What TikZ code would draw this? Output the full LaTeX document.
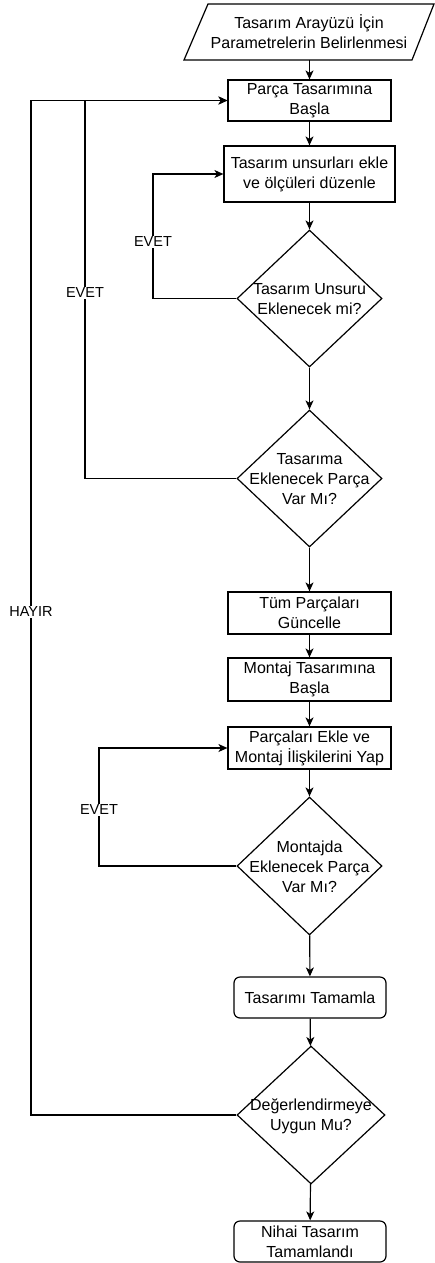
\documentclass[tikz,border=0pt]{standalone}
\usepackage{fontspec}
\setmainfont{Liberation Sans}
\usetikzlibrary{shapes.geometric,arrows.meta}
\begin{document}
\begin{tikzpicture}[x=1pt,y=-1pt,
  every node/.style={font=\fontsize{16}{20}\selectfont, text=black},
  proc/.style={draw, line width=1.2pt, rectangle, inner sep=0pt, align=center},
  term/.style={draw, line width=1.2pt, rectangle, rounded corners=6pt, inner sep=0pt, align=center},
  dec/.style={draw, line width=1.2pt, diamond, inner sep=0pt},
  txt/.style={align=center, inner sep=0pt},
  lbl/.style={fill=white, inner sep=1pt, font=\fontsize{14.5}{17}\selectfont},
  conn/.style={line width=1.2pt, -{Stealth[length=9pt,width=8pt,inset=2.5pt]}},
  seg/.style={line width=1.2pt}
]
\useasboundingbox (0,0) rectangle (435,1263);

% input parallelogram
\coordinate (pA) at (184,60);
\coordinate (pB) at (412,60);
\coordinate (pC) at (434,4);
\coordinate (pD) at (208,4);
\draw[line width=1.2pt] (pA) -- (pB) -- (pC) -- (pD) -- cycle;
\node[txt] (inp) at (309,31.5) {Tasarım Arayüzü İçin\\Parametrelerin Belirlenmesi};
\coordinate (inpS) at (309.5,60);

\node[proc, minimum width=163pt, minimum height=41pt] (b1) at (309.5,100.5) {Parça Tasarımına\\Başla};
\node[proc, minimum width=171pt, minimum height=56pt] (b2) at (309.5,174) {Tasarım unsurları ekle\\ve ölçüleri düzenle};
\node[dec, minimum width=145pt, minimum height=137pt] (d1) at (309.5,298.5) {};
\node[txt] (d1t) at (309.5,299.5) {Tasarım Unsuru\\Eklenecek mi?};
\node[dec, minimum width=145pt, minimum height=137pt] (d2) at (309.5,478.5) {};
\node[txt] (d2t) at (309.5,479.5) {Tasarıma\\Eklenecek Parça\\Var Mı?};
\node[proc, minimum width=163pt, minimum height=42pt] (b3) at (309.5,613) {Tüm Parçaları\\Güncelle};
\node[proc, minimum width=163pt, minimum height=43pt] (b4) at (309.5,679.5) {Montaj Tasarımına\\Başla};
\node[proc, minimum width=163pt, minimum height=42pt] (b5) at (309.5,748) {Parçaları Ekle ve\\Montaj İlişkilerini Yap};
\node[dec, minimum width=145pt, minimum height=138pt] (d3) at (309.5,866) {};
\node[txt] (d3t) at (309.5,867) {Montajda\\Eklenecek Parça\\Var Mı?};
\node[term, minimum width=152pt, minimum height=41pt] (r1) at (310,997.5) {Tasarımı Tamamla};
\node[dec, minimum width=148pt, minimum height=138pt] (d4) at (311,1115) {};
\node[txt] (d4t) at (311,1116) {Değerlendirmeye\\Uygun Mu?};
\node[term, minimum width=152pt, minimum height=41pt] (r2) at (310,1241.5) {Nihai Tasarım\\Tamamlandı};

% main flow
\draw[conn] (inpS) -- (b1.north);
\draw[conn] (b1) -- (b2);
\draw[conn] (b2) -- (d1);
\draw[conn] (d1) -- (d2);
\draw[conn] (d2) -- (b3);
\draw[conn] (b3) -- (b4);
\draw[conn] (b4) -- (b5);
\draw[conn] (b5) -- (d3);
\draw[conn] (d3) -- (r1);
\draw[conn] (r1) -- (d4);
\draw[conn] (d4) -- (r2);

% loops
\coordinate (l1a) at (153,298.5);
\coordinate (l1b) at (153,174);
\draw[conn] (d1.west) -- (l1a) -- (l1b) -- (b2.west);
\node[lbl] (e1) at (153,242) {EVET};

\coordinate (l2a) at (85,478.5);
\coordinate (l2b) at (85,100.5);
\draw[conn] (d2.west) -- (l2a) -- (l2b) -- (b1.west);
\node[lbl] (e2) at (85,293) {EVET};

\coordinate (l3a) at (99,866);
\coordinate (l3b) at (99,748);
\draw[conn] (d3.west) -- (l3a) -- (l3b) -- (b5.west);
\node[lbl] (e3) at (99,810) {EVET};

\coordinate (l4a) at (31,1115);
\coordinate (l4b) at (31,100.5);
\draw[conn] (d4.west) -- (l4a) -- (l4b) -- (b1.west);
\node[lbl] (h1) at (31,612) {HAYIR};
\end{tikzpicture}
\end{document}
